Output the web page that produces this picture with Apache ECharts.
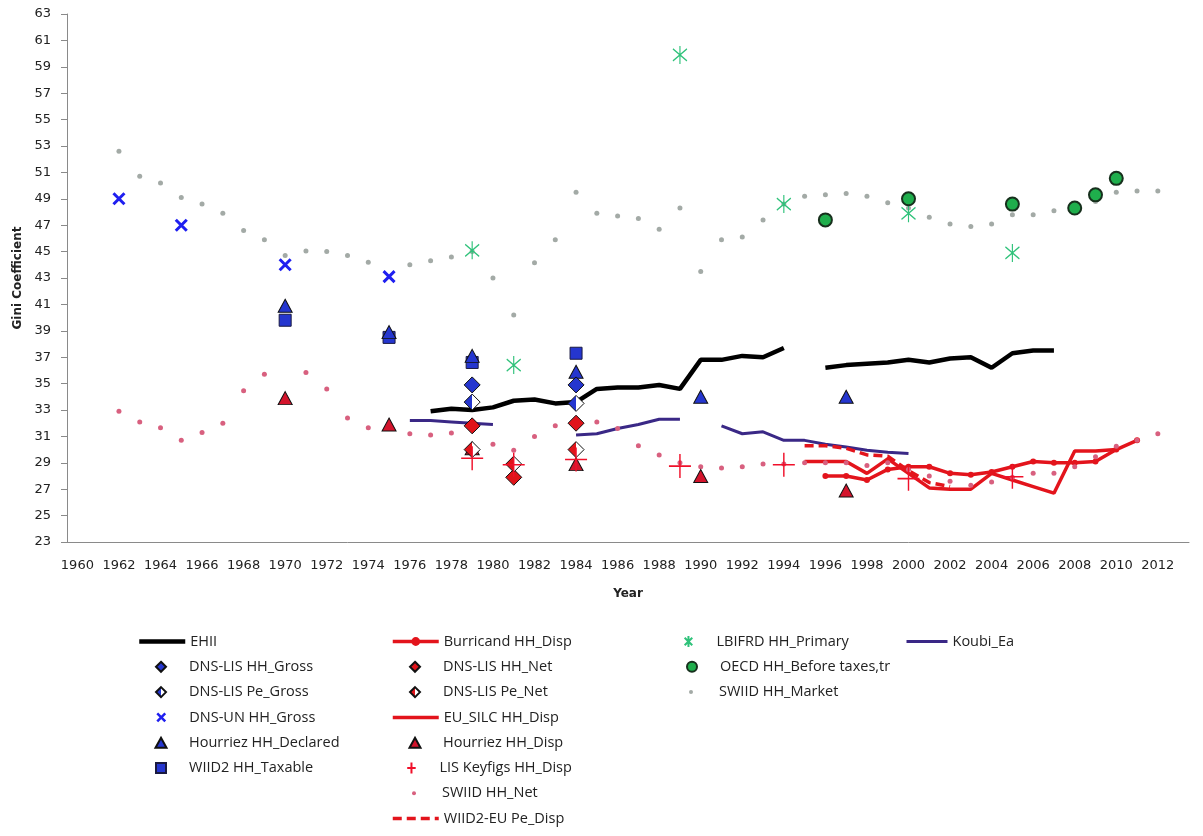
<!DOCTYPE html>
<html>
<head>
<meta charset="utf-8">
<script src="https://cdn.jsdelivr.net/npm/echarts@6/dist/echarts.min.js"></script>
<style>
  html, body { margin: 0; padding: 0; background: #fff; }
  #chart { width: 1203px; height: 836px; }
</style>
</head>
<body>
<div id="chart"></div>
<script>
// year categories on the x axis
var years = ['1960', '1961', '1962', '1963', '1964', '1965', '1966', '1967', '1968', '1969',
    '1970', '1971', '1972', '1973', '1974', '1975', '1976', '1977', '1978', '1979',
    '1980', '1981', '1982', '1983', '1984', '1985', '1986', '1987', '1988', '1989',
    '1990', '1991', '1992', '1993', '1994', '1995', '1996', '1997', '1998', '1999',
    '2000', '2001', '2002', '2003', '2004', '2005', '2006', '2007', '2008', '2009',
    '2010', '2011', '2012', '2013']

// [year, gini] pairs, null = gap in a line
var ehii = [[1977, 32.9], [1978, 33.1], [1979, 33.0], [1980, 33.2], [1981, 33.7], [1982, 33.8],
    [1983, 33.5], [1984, 33.6], [1985, 34.6], [1986, 34.7], [1987, 34.7], [1988, 34.9], [1989, 34.6],
    [1990, 36.8], [1991, 36.8], [1992, 37.1], [1993, 37.0], [1994, 37.7], [1995, null],
    [1996, 36.2], [1997, 36.4], [1998, 36.5], [1999, 36.6], [2000, 36.8], [2001, 36.6],
    [2002, 36.9], [2003, 37.0], [2004, 36.2], [2005, 37.3], [2006, 37.5], [2007, 37.5]]
var koubi = [[1976, 32.2], [1977, 32.2], [1978, 32.1], [1979, 32.0], [1980, 31.9], [1981, null],
    [1984, 31.1], [1985, 31.2], [1986, 31.6], [1987, 31.9], [1988, 32.3], [1989, 32.3], [1990, null],
    [1991, 31.8], [1992, 31.2], [1993, 31.35], [1994, 30.7], [1995, 30.7], [1996, 30.4],
    [1997, 30.2], [1998, 29.95], [1999, 29.8], [2000, 29.7]]
var burricand = [[1996, 28.0], [1997, 28.0], [1998, 27.7], [1999, 28.5], [2000, 28.7], [2001, 28.7],
    [2002, 28.2], [2003, 28.1], [2004, 28.3], [2005, 28.7], [2006, 29.1], [2007, 29.0],
    [2008, 29.0], [2009, 29.1], [2010, 30.0], [2011, 30.7]]
var euSilc = [[1995, 29.1], [1996, 29.1], [1997, 29.1], [1998, 28.2], [1999, 29.3], [2000, 28.2],
    [2001, 27.1], [2002, 27.0], [2003, 27.0], [2004, 28.2], [2005, 27.7], [2006, 27.2],
    [2007, 26.7], [2008, 29.9], [2009, 29.9], [2010, 30.0]]
var wiid2Eu = [[1995, 30.3], [1996, 30.3], [1997, 30.1], [1998, 29.6], [1999, 29.5], [2000, 28.4],
    [2001, 27.5], [2002, 27.2]]
var swiidNet = [[1962, 32.9], [1963, 32.1], [1964, 31.65], [1965, 30.7], [1966, 31.3], [1967, 32.0],
    [1968, 34.45], [1969, 35.7], [1971, 35.85], [1972, 34.6], [1973, 32.4], [1974, 31.65],
    [1975, 31.8], [1976, 31.2], [1977, 31.1], [1978, 31.25], [1980, 30.4], [1981, 29.95],
    [1982, 31.0], [1983, 31.8], [1985, 32.1], [1986, 31.6], [1987, 30.3], [1988, 29.6],
    [1989, 29.0], [1990, 28.7], [1991, 28.6], [1992, 28.7], [1993, 28.9], [1994, 28.9],
    [1995, 29.0], [1996, 29.0], [1997, 29.0], [1998, 28.8], [1999, 29.0], [2000, 28.5],
    [2001, 28.0], [2002, 27.6], [2003, 27.3], [2004, 27.55], [2005, 27.9], [2006, 28.2],
    [2007, 28.2], [2008, 28.7], [2009, 29.45], [2010, 30.25], [2011, 30.7], [2012, 31.2]]
var swiidMarket = [[1962, 52.6], [1963, 50.7], [1964, 50.2], [1965, 49.1], [1966, 48.6], [1967, 47.9],
    [1968, 46.6], [1969, 45.9], [1970, 44.7], [1971, 45.05], [1972, 45.0], [1973, 44.7],
    [1974, 44.2], [1976, 44.0], [1977, 44.3], [1978, 44.6], [1979, 45.0], [1980, 43.0],
    [1981, 40.2], [1982, 44.15], [1983, 45.9], [1984, 49.5], [1985, 47.9], [1986, 47.7],
    [1987, 47.5], [1988, 46.7], [1989, 48.3], [1990, 43.5], [1991, 45.9], [1992, 46.1],
    [1993, 47.4], [1994, 48.6], [1995, 49.2], [1996, 49.3], [1997, 49.4], [1998, 49.2],
    [1999, 48.7], [2000, 48.3], [2001, 47.6], [2002, 47.1], [2003, 46.9], [2004, 47.1],
    [2005, 47.8], [2006, 47.8], [2007, 48.1], [2008, 48.3], [2009, 48.8], [2010, 49.5],
    [2011, 49.6], [2012, 49.6]]
var dnsLisHhGross = [[1979, 34.9], [1984, 34.9]]
var dnsLisPeGross = [[1979, 33.6], [1984, 33.5]]
var dnsLisHhNet = [[1979, 31.8], [1981, 27.9], [1984, 32.0]]
var dnsLisPeNet = [[1979, 30.0], [1981, 28.9], [1984, 30.0]]
var dnsUnHhGross = [[1962, 49.0], [1965, 47.0], [1970, 44.0], [1975, 43.1]]
var hourriezDeclared = [[1970, 40.9], [1975, 38.9], [1979, 37.1], [1984, 35.9], [1990, 34.0], [1997, 34.0]]
var hourriezDisp = [[1970, 33.9], [1975, 31.9], [1979, 30.1], [1984, 28.9], [1990, 28.0], [1997, 26.9]]
var wiid2Taxable = [[1970, 39.8], [1975, 38.5], [1979, 36.6], [1984, 37.3]]
var lbifrd = [[1979, 45.1], [1981, 36.4], [1989, 59.9], [1994, 48.6], [2000, 47.9], [2005, 44.9]]
var oecd = [[1996, 47.4], [2000, 49.0], [2005, 48.6], [2008, 48.3], [2009, 49.3], [2010, 50.55]]
var lisKeyfigs = [[1979, 29.35], [1981, 28.85], [1984, 29.25], [1989, 28.75], [1994, 28.85], [2000, 27.8], [2005, 27.95]]

var yTicks = { min: 23, max: 63, step: 2 }

// legend layout: columns left to right, each a list of series names
var legendCols = [
    ['EHII', 'DNS-LIS HH_Gross', 'DNS-LIS Pe_Gross', 'DNS-UN HH_Gross', 'Hourriez HH_Declared', 'WIID2 HH_Taxable'],
    ['Burricand HH_Disp', 'DNS-LIS HH_Net', 'DNS-LIS Pe_Net', 'EU_SILC HH_Disp', 'Hourriez HH_Disp',
        'LIS Keyfigs HH_Disp', 'SWIID HH_Net', 'WIID2-EU Pe_Disp'],
    ['LBIFRD HH_Primary', 'OECD HH_Before taxes,tr', 'SWIID HH_Market'],
    ['Koubi_Ea']
]
var legendLeft = [132, 386, 663, 900]

function pts(list) {
    return list.map(function (p) { return [String(p[0]), p[1]] })
}

function half(color) {
    return {
        type: 'linear', x: 0, y: 0, x2: 1, y2: 0,
        colorStops: [
            { offset: 0, color: color }, { offset: 0.5, color: color },
            { offset: 0.5, color: '#ffffff' }, { offset: 1, color: '#ffffff' }
        ]
    }
}

var BLUE = '#2536cf'
var RED = '#e3141c'
var asterisk = 'path://M10 0 L10 24 M0 4 L20 20 M0 20 L20 4'
var plus = 'path://M10 0 L10 20 M0 10 L20 10'
var cross = 'path://M0 0 L10 10 M0 10 L10 0'
var diamond = 'path://M5 0 L10 5 L5 10 L0 5 Z'
var triangle = 'path://M5 0 L10 9 L0 9 Z'
var square = 'path://M0 0 L10 0 L10 10 L0 10 Z'

// legend icons: same shapes, centred in a 46x11 box
var legendIcons = {
    'DNS-LIS HH_Gross': 'path://M0 0 M46 11 M23 0.5 L28 5.5 L23 10.5 L18 5.5 Z',
    'DNS-LIS Pe_Gross': 'path://M0 0 M46 11 M23 0.5 L28 5.5 L23 10.5 L18 5.5 Z',
    'DNS-LIS HH_Net': 'path://M0 0 M46 11 M23 0.5 L28 5.5 L23 10.5 L18 5.5 Z',
    'DNS-LIS Pe_Net': 'path://M0 0 M46 11 M23 0.5 L28 5.5 L23 10.5 L18 5.5 Z',
    'DNS-UN HH_Gross': 'path://M0 0 M46 11 M19 1.5 L27 9.5 M19 9.5 L27 1.5',
    'Hourriez HH_Declared': 'path://M0 0 M46 11 M23 0.5 L28.5 10.5 L17.5 10.5 Z',
    'Hourriez HH_Disp': 'path://M0 0 M46 11 M23 0.5 L28.5 10.5 L17.5 10.5 Z',
    'WIID2 HH_Taxable': 'path://M0 0 M46 11 M18 0.5 L28 0.5 L28 10.5 L18 10.5 Z',
    'LIS Keyfigs HH_Disp': 'path://M0 0 M46 11 M23 -1 L23 12 M18 5.5 L28 5.5',
    'LBIFRD HH_Primary': 'path://M0 0 M46 11 M23 -1 L23 12 M18.5 1 L27.5 10 M18.5 10 L27.5 1',
    'OECD HH_Before taxes,tr': 'path://M0 0 M46 11 M18 5.5 A5 5 0 1 1 28 5.5 A5 5 0 1 1 18 5.5 Z',
    'SWIID HH_Net': 'path://M0 0 M46 11 M21 5.5 A2 2 0 1 1 25 5.5 A2 2 0 1 1 21 5.5 Z',
    'SWIID HH_Market': 'path://M0 0 M46 11 M21 5.5 A2 2 0 1 1 25 5.5 A2 2 0 1 1 21 5.5 Z'
}

function lineSeries(name, data, color, width, extra) {
    var s = {
        name: name, type: 'line', data: pts(data), symbol: 'none',
        connectNulls: false, z: 3,
        lineStyle: { color: color, width: width },
        itemStyle: { color: color }
    }
    return Object.assign(s, extra || {})
}

function markerSeries(name, data, symbol, size, fill, border, borderWidth) {
    return {
        name: name, type: 'scatter', data: pts(data), symbol: symbol, symbolSize: size, z: 5,
        itemStyle: { color: fill, borderColor: border, borderWidth: borderWidth, opacity: 1 }
    }
}

var series = [
    markerSeries('SWIID HH_Market', swiidMarket, 'circle', 5, '#a3aaa6', '#a3aaa6', 0),
    markerSeries('SWIID HH_Net', swiidNet, 'circle', 5, '#d8607f', '#d8607f', 0),
    lineSeries('EHII', ehii, '#000000', 4.5),
    lineSeries('Koubi_Ea', koubi, '#3a2886', 3),
    lineSeries('WIID2-EU Pe_Disp', wiid2Eu, RED, 3.5, { lineStyle: { color: RED, width: 3.5, type: [9, 5] } }),
    lineSeries('EU_SILC HH_Disp', euSilc, RED, 3.5),
    lineSeries('Burricand HH_Disp', burricand, RED, 3.5, { symbol: 'circle', symbolSize: 6, showSymbol: true }),
    markerSeries('WIID2 HH_Taxable', wiid2Taxable, square, 12, BLUE, '#1a1a40', 1),
    markerSeries('Hourriez HH_Declared', hourriezDeclared, triangle, [14, 13], BLUE, '#111111', 1),
    markerSeries('Hourriez HH_Disp', hourriezDisp, triangle, [14, 13], '#d4142c', '#111111', 1),
    markerSeries('DNS-LIS HH_Gross', dnsLisHhGross, diamond, 16, BLUE, '#111111', 1),
    markerSeries('DNS-LIS Pe_Gross', dnsLisPeGross, diamond, 16, half(BLUE), '#111111', 1),
    markerSeries('DNS-LIS HH_Net', dnsLisHhNet, diamond, 16, '#e0141a', '#111111', 1),
    markerSeries('DNS-LIS Pe_Net', dnsLisPeNet, diamond, 16, half('#e0141a'), '#111111', 1),
    markerSeries('DNS-UN HH_Gross', dnsUnHhGross, cross, 11, 'rgba(0,0,0,0)', '#1f1ff0', 3),
    markerSeries('LBIFRD HH_Primary', lbifrd, asterisk, [14, 18], 'rgba(0,0,0,0)', '#2fc27a', 1.3),
    markerSeries('OECD HH_Before taxes,tr', oecd, 'circle', 13, '#1fae4c', '#17301d', 2),
    markerSeries('LIS Keyfigs HH_Disp', lisKeyfigs, plus, [22, 24], 'rgba(0,0,0,0)', '#f0102a', 1.5)
]

// one legend block per entry so every row sits where the reference has it
var legends = []
legendCols.forEach(function (col, c) {
    col.forEach(function (name, r) {
        var s = series.filter(function (d) { return d.name === name })[0]
        var item = { name: name }
        if (s.type === 'line') {
            item.lineStyle = { width: s.lineStyle.width }
            if (s.symbol === 'none') item.itemStyle = { opacity: 0 }
        } else {
            item.icon = legendIcons[name]
            if (name === 'DNS-UN HH_Gross') item.itemStyle = { borderWidth: 2.5 }
        }
        legends.push({
            left: legendLeft[c], top: 629 + r * 25.3,
            orient: 'vertical', itemWidth: c === 3 ? 41 : 46, itemHeight: 11,
            selectedMode: false,
            textStyle: { fontFamily: 'Open Sans', fontSize: 14.5, color: '#222', lineHeight: 14 },
            data: [item]
        })
    })
})

var chart = echarts.init(document.getElementById('chart'))
chart.setOption({
    animation: false,
    backgroundColor: '#ffffff',
    grid: { left: 67, right: 14, top: 14, bottom: 294 },
    xAxis: {
        type: 'category',
        data: years,
        boundaryGap: true,
        name: 'Year',
        nameLocation: 'middle',
        nameGap: 46,
        nameTextStyle: { fontFamily: 'DejaVu Sans', fontWeight: 'bold', fontSize: 12, color: '#222' },
        axisLine: { lineStyle: { color: '#8a8a8a' } },
        axisTick: { interval: 0, length: 6, lineStyle: { color: '#8a8a8a' } },
        axisLabel: { interval: 1, margin: 17, fontFamily: 'DejaVu Sans', fontSize: 13, color: '#222' },
        splitLine: { show: false }
    },
    yAxis: {
        type: 'value',
        min: yTicks.min,
        max: yTicks.max,
        interval: yTicks.step,
        name: 'Gini Coefficient',
        nameLocation: 'middle',
        nameGap: 43,
        nameTextStyle: { fontFamily: 'DejaVu Sans', fontWeight: 'bold', fontSize: 12, color: '#222' },
        axisLine: { show: true, lineStyle: { color: '#8a8a8a' } },
        axisTick: { show: true, length: 6, lineStyle: { color: '#8a8a8a' } },
        axisLabel: { margin: 16, fontFamily: 'DejaVu Sans', fontSize: 13, color: '#222' },
        splitLine: { show: false }
    },
    legend: legends,
    series: series
})
</script>
</body>
</html>
